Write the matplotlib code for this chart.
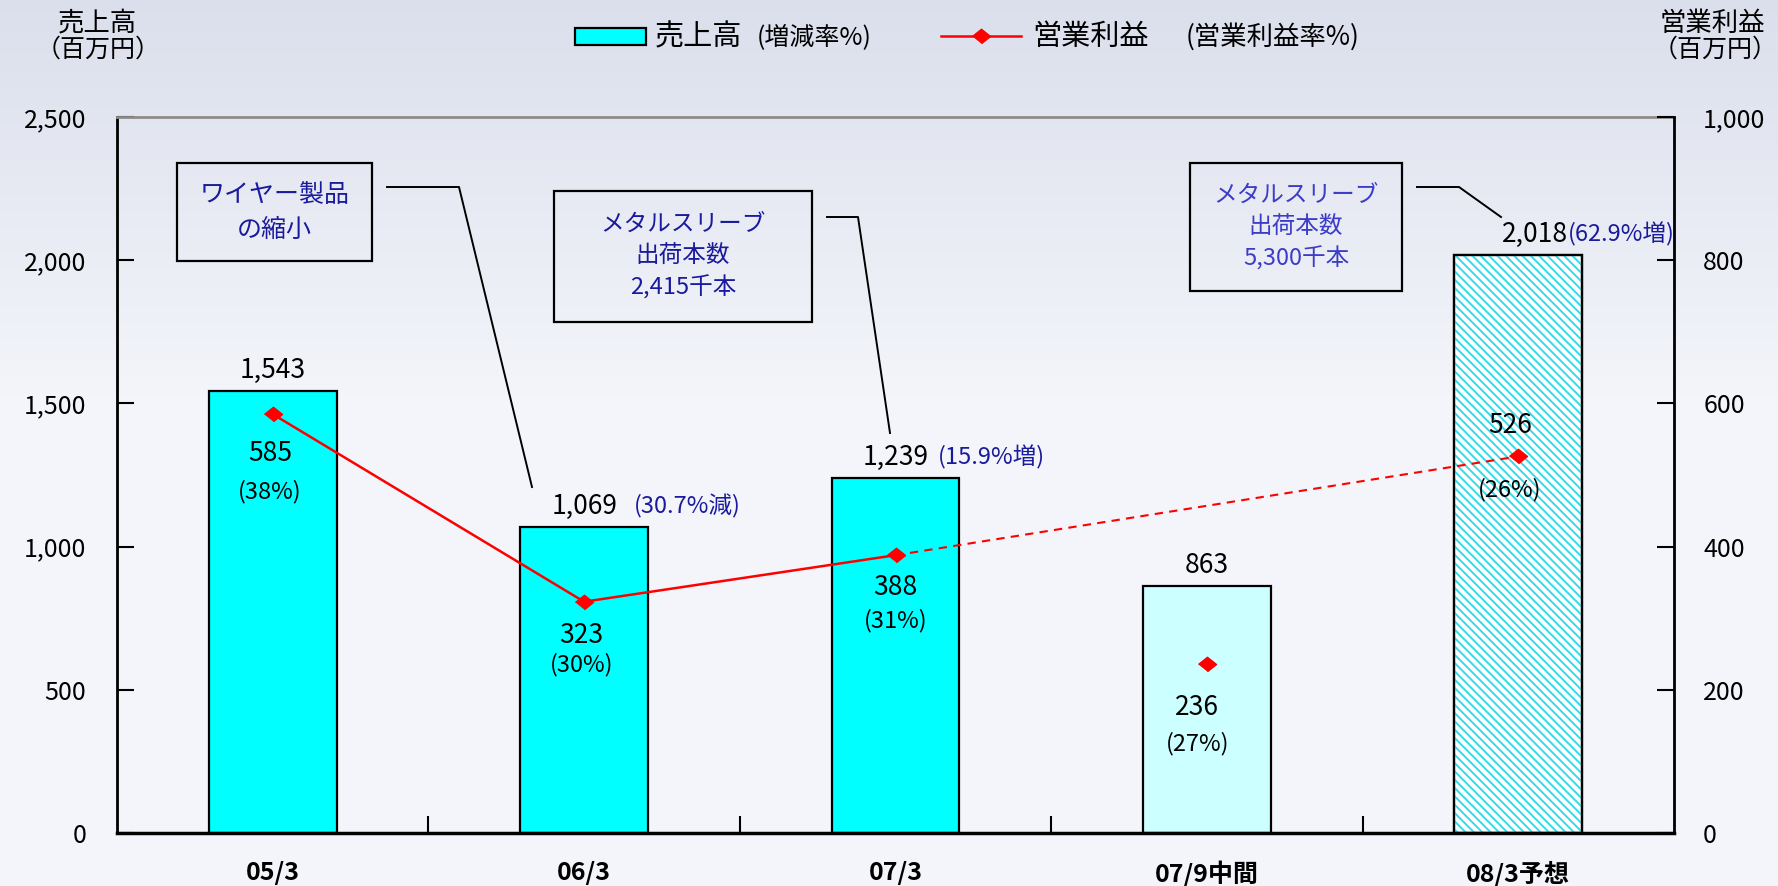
import numpy as np
import matplotlib.pyplot as plt
from matplotlib.patches import Rectangle
from matplotlib.lines import Line2D
from matplotlib.ticker import FuncFormatter

plt.rcParams['font.family'] = ['Noto Sans CJK JP', 'DejaVu Sans']
plt.rcParams['hatch.linewidth'] = 1.4

## ------------  Data  ---------------
periods = ['05/3', '06/3', '07/3', '07/9中間', '08/3予想']
sales = [1543, 1069, 1239, 863, 2018]
sales_change = ['', '(30.7%減)', '(15.9%増)', '', '(62.9%増)']
profit = [585, 323, 388, 236, 526]
profit_margin = ['(38%)', '(30%)', '(31%)', '(27%)', '(26%)']
sales_ticks = [0, 500, 1000, 1500, 2000, 2500]
profit_ticks = [0, 200, 400, 600, 800, 1000]
notes = ['ワイヤー製品\nの縮小',
         'メタルスリーブ\n出荷本数\n2,415千本',
         'メタルスリーブ\n出荷本数\n5,300千本']

## ------------  Style  ---------------
W, H = 1778, 886
CYAN = '#00ffff'
LIGHT_CYAN = '#ccffff'
NAVY = '#1a1a9c'
RED = '#ff0000'
bar_colors = [CYAN, CYAN, CYAN, LIGHT_CYAN, 'white']
fx = lambda v: v / W
fy = lambda v: 1 - v / H

fig = plt.figure(figsize=(W / 100, H / 100), dpi=100)

# sky-ish background (plain gradient)
bg = fig.add_axes([0, 0, 1, 1], zorder=-10)
top = np.array([0.86, 0.875, 0.925])
mid = np.array([0.955, 0.962, 0.982])
t = np.linspace(0, 1, 200)[:, None]
w = np.clip(t / 0.45, 0, 1)
grad = top * (1 - w) + mid * w
bg.imshow(grad[:, None, :], aspect='auto', extent=[0, 1, 0, 1])
bg.axis('off')

ax = fig.add_axes([fx(117), 1 - 833 / H, (1674 - 117) / W, (833 - 117) / H])
ax.patch.set_alpha(0)
x = np.arange(len(periods))
bw = 0.41

## ------------  Bars  ---------------
ax.bar(x, sales, width=bw, color=bar_colors, edgecolor='black', linewidth=1.6, zorder=2)
fc = len(periods) - 1   # forecast bar
ax.bar(x[fc], sales[fc], width=bw, facecolor='none', edgecolor='#33dbe8',
       hatch='\\\\\\\\', linewidth=0, zorder=2.5)
ax.bar(x[fc], sales[fc], width=bw, fill=False, edgecolor='black', linewidth=1.6, zorder=3)

ax.set_xlim(-0.5, len(periods) - 0.5)
ax.set_ylim(sales_ticks[0], sales_ticks[-1])
ax.set_yticks(sales_ticks)
ax.yaxis.set_major_formatter(FuncFormatter(lambda v, p: f'{v:,.0f}'))
ax.set_xticks(x)
ax.set_xticklabels(periods, fontweight='bold')
ax.set_xticks(x[:-1] + 0.5, minor=True)
ax.tick_params(axis='x', which='major', length=0, pad=20, labelsize=18)
ax.tick_params(axis='x', which='minor', direction='in', length=12, width=1.5)
ax.tick_params(axis='y', direction='in', length=12, width=1.5, pad=22, labelsize=18)
ax.spines['top'].set_color('#8c8c8c')
ax.spines['top'].set_linewidth(2)
ax.spines['left'].set_linewidth(2)
ax.spines['bottom'].set_linewidth(2.5)
ax.spines['right'].set_visible(False)

# sales labels
label_dx = [0, 0, 0, 0, 12]
gap = [0, 12, 7, 0, 0]
for i, v in enumerate(sales):
    tv = ax.annotate(f'{v:,}', (x[i], v), xytext=(label_dx[i], 15),
                     textcoords='offset points', ha='center', va='center', fontsize=19)
    if sales_change[i]:
        ax.annotate(sales_change[i], xy=(1, 0.5), xycoords=tv, xytext=(gap[i], 0),
                    textcoords='offset points', ha='left', va='center',
                    color=NAVY, fontsize=17)

## ------------  Operating profit  ---------------
ax2 = ax.twinx()
ax2.patch.set_alpha(0)
ax2.set_ylim(profit_ticks[0], profit_ticks[-1])
ax2.set_yticks(profit_ticks)
ax2.yaxis.set_major_formatter(FuncFormatter(lambda v, p: f'{v:,.0f}'))
ax2.tick_params(axis='y', direction='in', length=12, width=1.5, pad=21, labelsize=18)
for s in ['top', 'left', 'bottom']:
    ax2.spines[s].set_visible(False)
ax2.spines['right'].set_linewidth(2)

diamond = [(-1, 0), (0, 0.8), (1, 0), (0, -0.8)]
p = np.array(profit)
ax2.plot(x[:3], p[:3], color=RED, lw=1.8, marker=diamond, ms=13, zorder=4)
ax2.plot(x[[2, 4]], p[[2, 4]], color=RED, lw=1.5, ls=(0, (4, 3)), zorder=4)
ax2.plot(x[3:], p[3:], color=RED, ls='none', marker=diamond, ms=13, zorder=4)

# (dx, dy value, dy margin) in points
p_off = [(-2, -28, -56), (-2, -24, -45), (0, -23, -47), (-7, -31, -57), (-6, 22, -24)]
for i, v in enumerate(profit):
    dx, dv, dm = p_off[i]
    ax2.annotate(f'{v}', (x[i], v), xytext=(dx, dv), textcoords='offset points',
                 ha='center', va='center', fontsize=19)
    ax2.annotate(profit_margin[i], (x[i], v), xytext=(dx, dm), textcoords='offset points',
                 ha='center', va='center', fontsize=17)

## ------------  Note boxes  ---------------
boxes = [(177, 163, 372, 261), (554, 191, 812, 322), (1190, 163, 1402, 291)]
box_colors = [NAVY, NAVY, '#3c3cc8']
box_fs = [18, 17, 17]
for (x0, y0, x1, y1), txt, c, fs in zip(boxes, notes, box_colors, box_fs):
    fig.add_artist(Rectangle((fx(x0), fy(y1)), (x1 - x0) / W, (y1 - y0) / H,
                             transform=fig.transFigure, fill=False, edgecolor='black', lw=1.6))
    fig.text(fx((x0 + x1) / 2), fy((y0 + y1) / 2), txt, ha='center', va='center',
             multialignment='center', color=c, fontsize=fs, linespacing=1.45)

leaders = [[(387, 187), (459, 187), (532, 487)],
           [(827, 217), (858, 217), (890, 433)],
           [(1417, 187), (1459, 187), (1501, 217)]]
for pts in leaders:
    fig.add_artist(Line2D([fx(a) for a, b in pts], [fy(b) for a, b in pts],
                          color='black', lw=1.4))

## ------------  Legend & axis titles  ---------------
fig.add_artist(Rectangle((fx(575), fy(45)), 71 / W, 17 / H, transform=fig.transFigure,
                         facecolor=CYAN, edgecolor='black', lw=1.6))
fig.text(fx(655), fy(37), '売上高', ha='left', va='center', fontsize=21)
fig.text(fx(757), fy(37), '(増減率%)', ha='left', va='center', fontsize=18)
fig.add_artist(Line2D([fx(941), fx(981), fx(1021)], [fy(36)] * 3, color=RED, lw=1.8,
                      marker=diamond, ms=13, markevery=[1]))
fig.text(fx(1032), fy(37), '営業利益', ha='left', va='center', fontsize=21)
fig.text(fx(1186), fy(37), '(営業利益率%)', ha='left', va='center', fontsize=19)

fig.text(fx(97), fy(23), '売上高', ha='center', va='center', fontsize=19)
fig.text(fx(98), fy(50), '（百万円）', ha='center', va='center', fontsize=18)
fig.text(fx(1712), fy(23), '営業利益', ha='center', va='center', fontsize=19)
fig.text(fx(1715), fy(50), '（百万円）', ha='center', va='center', fontsize=18)

fig.savefig('out.png', dpi=100)
